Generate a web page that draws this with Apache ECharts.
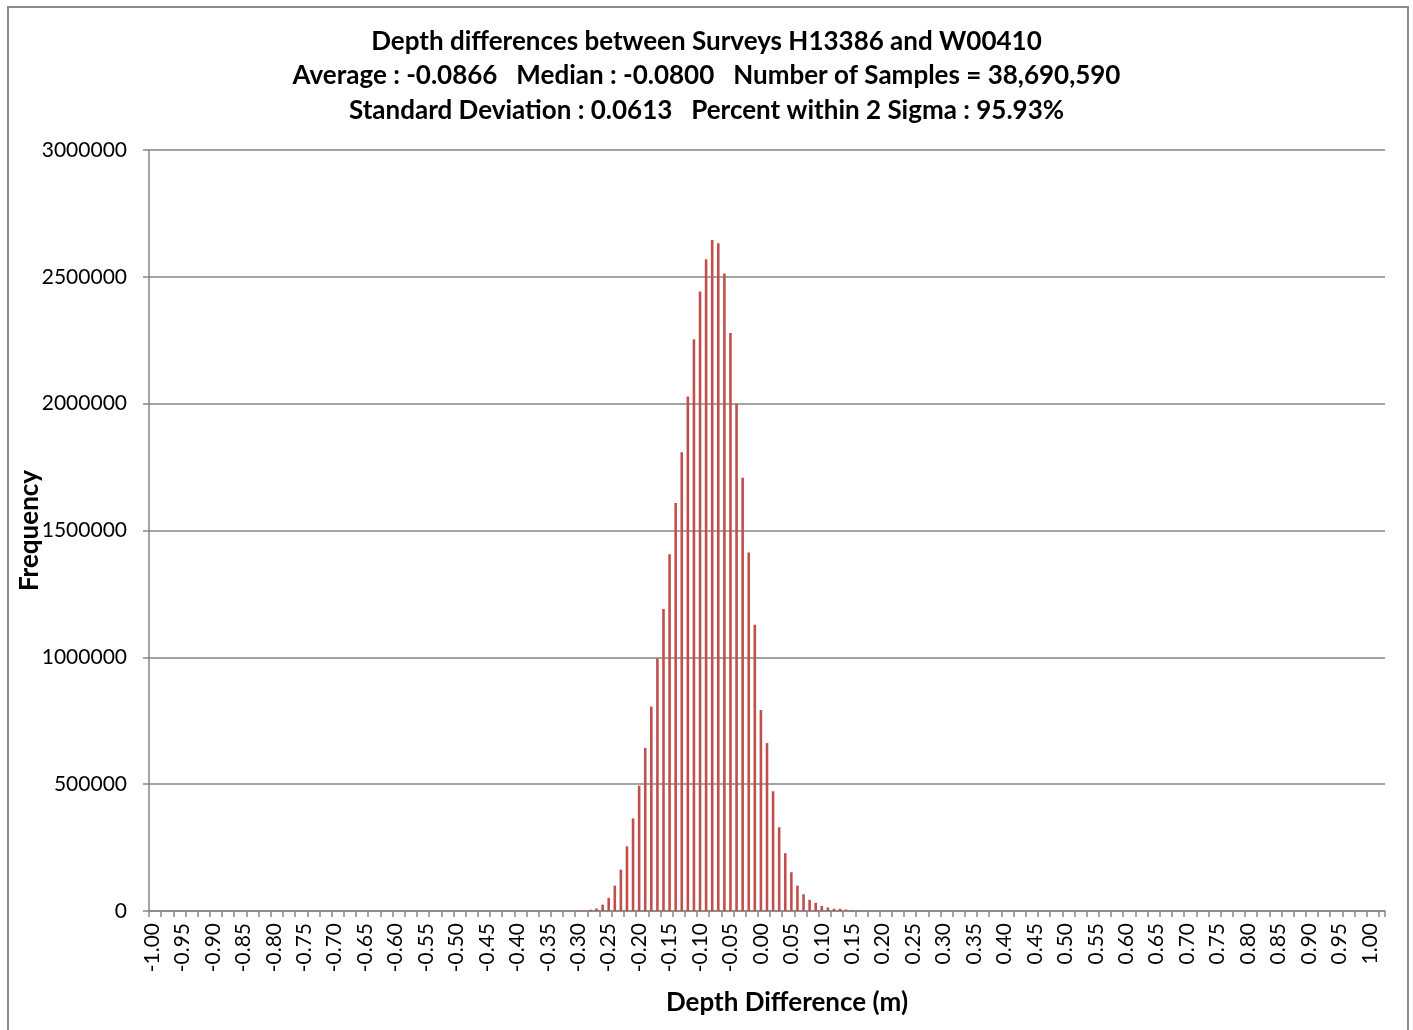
<!DOCTYPE html>
<html>
<head>
<meta charset="utf-8">
<script src="https://cdn.jsdelivr.net/npm/echarts@6/dist/echarts.min.js"></script>
<style>
html,body{margin:0;padding:0;background:#fff;}
#chart{width:1413px;height:1030px;}
</style>
</head>
<body>
<div id="chart"></div>
<script>
// Bin labels (m): -1.00 .. 1.02 step 0.01 (written out as the chart's categories)
const categories = [
"-1.00","-0.99","-0.98","-0.97","-0.96","-0.95","-0.94","-0.93","-0.92","-0.91",
"-0.90","-0.89","-0.88","-0.87","-0.86","-0.85","-0.84","-0.83","-0.82","-0.81",
"-0.80","-0.79","-0.78","-0.77","-0.76","-0.75","-0.74","-0.73","-0.72","-0.71",
"-0.70","-0.69","-0.68","-0.67","-0.66","-0.65","-0.64","-0.63","-0.62","-0.61",
"-0.60","-0.59","-0.58","-0.57","-0.56","-0.55","-0.54","-0.53","-0.52","-0.51",
"-0.50","-0.49","-0.48","-0.47","-0.46","-0.45","-0.44","-0.43","-0.42","-0.41",
"-0.40","-0.39","-0.38","-0.37","-0.36","-0.35","-0.34","-0.33","-0.32","-0.31",
"-0.30","-0.29","-0.28","-0.27","-0.26","-0.25","-0.24","-0.23","-0.22","-0.21",
"-0.20","-0.19","-0.18","-0.17","-0.16","-0.15","-0.14","-0.13","-0.12","-0.11",
"-0.10","-0.09","-0.08","-0.07","-0.06","-0.05","-0.04","-0.03","-0.02","-0.01",
"0.00","0.01","0.02","0.03","0.04","0.05","0.06","0.07","0.08","0.09",
"0.10","0.11","0.12","0.13","0.14","0.15","0.16","0.17","0.18","0.19",
"0.20","0.21","0.22","0.23","0.24","0.25","0.26","0.27","0.28","0.29",
"0.30","0.31","0.32","0.33","0.34","0.35","0.36","0.37","0.38","0.39",
"0.40","0.41","0.42","0.43","0.44","0.45","0.46","0.47","0.48","0.49",
"0.50","0.51","0.52","0.53","0.54","0.55","0.56","0.57","0.58","0.59",
"0.60","0.61","0.62","0.63","0.64","0.65","0.66","0.67","0.68","0.69",
"0.70","0.71","0.72","0.73","0.74","0.75","0.76","0.77","0.78","0.79",
"0.80","0.81","0.82","0.83","0.84","0.85","0.86","0.87","0.88","0.89",
"0.90","0.91","0.92","0.93","0.94","0.95","0.96","0.97","0.98","0.99",
"1.00","1.01","1.02"
];

// Non-zero bin counts (all other bins are 0)
const nonZeroBins = [
"-0.30","-0.29","-0.28","-0.27","-0.26","-0.25","-0.24","-0.23","-0.22","-0.21",
"-0.20","-0.19","-0.18","-0.17","-0.16","-0.15","-0.14","-0.13","-0.12","-0.11",
"-0.10","-0.09","-0.08","-0.07","-0.06","-0.05","-0.04","-0.03","-0.02","-0.01",
"0.00","0.01","0.02","0.03","0.04","0.05","0.06","0.07","0.08","0.09",
"0.10","0.11","0.12","0.13","0.14","0.15","0.16"
];
const nonZeroCounts = [
1000,2000,5000,10000,25000,52000,100000,163000,255000,365000,
494000,643000,806000,996000,1191000,1406000,1608000,1808000,2028000,2254000,
2442000,2569000,2645000,2632000,2513000,2279000,2000000,1708000,1413000,1128000,
792000,662000,472000,330000,228000,153000,100000,66000,44000,32000,
20000,14000,9000,9000,6000,4000,2000
];

const yTicks = [0,500000,1000000,1500000,2000000,2500000,3000000];

const titleLines = [
"Depth differences between Surveys H13386 and W00410",
"Average : -0.0866   Median : -0.0800   Number of Samples = 38,690,590",
"Standard Deviation : 0.0613   Percent within 2 Sigma : 95.93%"
];

const freq = categories.map(c => {
  const i = nonZeroBins.indexOf(c);
  return i >= 0 ? nonZeroCounts[i] : 0;
});

const FONT = 'Lato';
const chart = echarts.init(document.getElementById('chart'), null, {renderer:'canvas'});
chart.setOption({
  animation: false,
  backgroundColor: '#ffffff',
  graphic: [{
    type: 'rect',
    shape: {x: 8, y: 7, width: 1400, height: 1040},
    style: {fill: 'none', stroke: '#8c8c8c', lineWidth: 2},
    silent: true
  }],
  title: {
    text: titleLines.join('\n'),
    left: 'center',
    top: 19,
    textStyle: {fontFamily: FONT, fontWeight: 'bold', fontSize: 26, lineHeight: 34.5, color: '#000'}
  },
  grid: {left: 149, right: 28, top: 150, bottom: 119, containLabel: false},
  xAxis: {
    type: 'category',
    data: categories,
    boundaryGap: true,
    name: 'Depth Difference (m)',
    nameLocation: 'middle',
    nameGap: 79,
    nameMoveOverlap: false,
    nameTextStyle: {fontFamily: FONT, fontWeight: 'bold', fontSize: 26, color: '#000', padding: [0,0,0,40]},
    axisLine: {lineStyle: {color: '#868686', width: 1.5}},
    axisTick: {show: true, interval: 1, length: 6, inside: false, lineStyle: {color: '#868686', width: 1.5}},
    axisLabel: {interval: 4, rotate: 90, margin: 12, fontFamily: FONT, fontSize: 21, color: '#000'},
    splitLine: {show: false}
  },
  yAxis: {
    type: 'value',
    min: yTicks[0],
    max: yTicks[yTicks.length-1],
    interval: yTicks[1]-yTicks[0],
    name: 'Frequency',
    nameLocation: 'middle',
    nameGap: 106,
    nameMoveOverlap: false,
    nameRotate: 90,
    nameTextStyle: {fontFamily: FONT, fontWeight: 'bold', fontSize: 26, color: '#000'},
    axisLine: {show: true, lineStyle: {color: '#868686', width: 1.5}},
    axisTick: {show: true, length: 6, lineStyle: {color: '#868686', width: 1.5}},
    axisLabel: {margin: 22, fontFamily: FONT, fontSize: 21, color: '#000', formatter: v => String(v)},
    splitLine: {show: true, lineStyle: {color: '#868686', width: 1.5}}
  },
  series: [{
    type: 'bar',
    data: freq,
    barWidth: 2.6,
    itemStyle: {color: '#c0504d'},
    silent: true
  }]
});
</script>
</body>
</html>
